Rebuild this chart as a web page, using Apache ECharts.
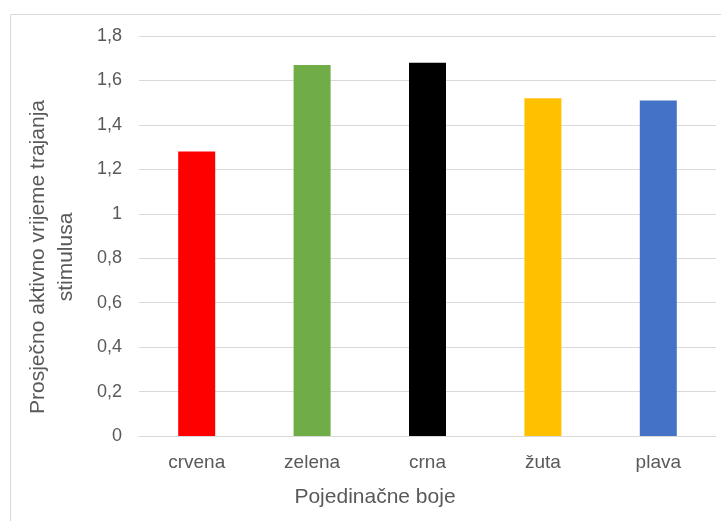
<!DOCTYPE html>
<html>
<head>
<meta charset="utf-8">
<script src="https://cdn.jsdelivr.net/npm/echarts@6/dist/echarts.min.js"></script>
<style>html,body{margin:0;padding:0;background:#fff}#c{width:721px;height:521px}</style>
</head>
<body>
<div id="c"></div>
<script>
const categories = ['crvena', 'zelena', 'crna', 'žuta', 'plava'];
const values = [1.28, 1.67, 1.68, 1.52, 1.51];
const barColors = ['#FF0000', '#70AD47', '#000000', '#FFC000', '#4472C4'];
const yTitleLines = ['Prosječno aktivno vrijeme trajanja', 'stimulusa'];
const xTitle = 'Pojedinačne boje';

const font = '"Liberation Sans", Arial, sans-serif';
const chart = echarts.init(document.getElementById('c'), null, {renderer: 'canvas'});
chart.setOption({
  backgroundColor: '#fff',
  animation: false,
  grid: {left: 139, right: 5, top: 36, bottom: 85, containLabel: false},
  xAxis: {
    type: 'category',
    data: categories,
    axisLine: {show: true, lineStyle: {color: '#d9d9d9', width: 1}},
    axisTick: {show: false},
    axisLabel: {color: '#595959', fontSize: 19, fontFamily: font, margin: 17}
  },
  yAxis: {
    type: 'value',
    min: 0, max: 1.8, interval: 0.2,
    axisLine: {show: false},
    axisTick: {show: false},
    splitLine: {lineStyle: {color: '#d9d9d9', width: 1}},
    axisLabel: {
      color: '#595959', fontSize: 18, fontFamily: font, margin: 17,
      formatter: v => (Math.round(v * 10) / 10).toString().replace('.', ',')
    }
  },
  series: [{
    type: 'bar',
    data: values.map((v, i) => ({value: v, itemStyle: {color: barColors[i]}})),
    barWidth: 37
  }],
  graphic: [
    {type: 'rect', shape: {x: 10.5, y: 14.5, width: 740, height: 540}, style: {fill: 'none', stroke: '#d9d9d9', lineWidth: 1}, silent: true},
    {type: 'text', x: 52, y: 257, rotation: Math.PI / 2,
      style: {text: yTitleLines.join('\n'), fill: '#595959', font: '21px ' + font, textAlign: 'center', textVerticalAlign: 'middle', lineHeight: 28}},
    {type: 'text', x: 375, y: 497,
      style: {text: xTitle, fill: '#595959', font: '21px ' + font, textAlign: 'center', textVerticalAlign: 'middle'}}
  ]
});
</script>
</body>
</html>
